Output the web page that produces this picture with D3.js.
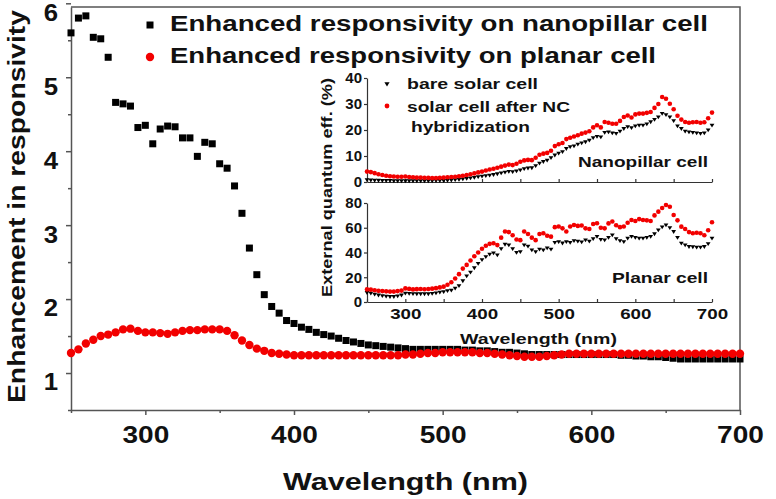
<!DOCTYPE html>
<html>
<head>
<meta charset="utf-8">
<script src="https://cdn.jsdelivr.net/npm/d3@7/dist/d3.min.js"></script>
<style>
  body { margin: 0; background: #fff; }
  text { font-family: "Liberation Sans", Arial, sans-serif; font-weight: bold; fill: #111; }
</style>
</head>
<body>
<div id="chart"></div>
<script>
/* DATA */
const wavelengths = d3.range(250, 701, 5);

// main plot: enhancement in responsivity
const nanopillarEnh = [
  5.60, 5.80, 5.83, 5.54, 5.52, 5.27, 4.66, 4.64, 4.61, 4.32,
  4.35, 4.10, 4.30, 4.34, 4.33, 4.18, 4.18, 3.93, 4.12, 4.10,
  3.83, 3.77, 3.53, 3.16, 2.69, 2.33, 2.06, 1.90, 1.81, 1.71,
  1.67, 1.62, 1.59, 1.55, 1.52, 1.50, 1.47, 1.44, 1.42, 1.40,
  1.38, 1.37, 1.36, 1.35, 1.34, 1.33, 1.32, 1.32, 1.32, 1.32,
  1.32, 1.32, 1.32, 1.31, 1.31, 1.30, 1.30, 1.29, 1.28, 1.28,
  1.27, 1.26, 1.25, 1.25, 1.25, 1.25, 1.25, 1.25, 1.25, 1.25,
  1.25, 1.25, 1.25, 1.25, 1.24, 1.24, 1.23, 1.23, 1.22, 1.22,
  1.21, 1.20, 1.19, 1.19, 1.19, 1.19, 1.19, 1.19, 1.19, 1.19,
  1.19
];
const planarEnh = [
  1.27, 1.32, 1.40, 1.45, 1.50, 1.52, 1.55, 1.59, 1.60, 1.57,
  1.55, 1.55, 1.54, 1.53, 1.55, 1.57, 1.58, 1.58, 1.59, 1.59,
  1.59, 1.57, 1.51, 1.44, 1.38, 1.33, 1.30, 1.27, 1.26, 1.25,
  1.24, 1.24, 1.24, 1.24, 1.24, 1.24, 1.24, 1.24, 1.24, 1.24,
  1.24, 1.24, 1.24, 1.24, 1.24, 1.25, 1.25, 1.26, 1.27, 1.27,
  1.28, 1.28, 1.28, 1.28, 1.28, 1.27, 1.27, 1.26, 1.25, 1.24,
  1.23, 1.22, 1.22, 1.22, 1.23, 1.24, 1.25, 1.26, 1.26, 1.26,
  1.26, 1.26, 1.26, 1.26, 1.26, 1.26, 1.26, 1.26, 1.26, 1.26,
  1.26, 1.26, 1.26, 1.26, 1.26, 1.26, 1.26, 1.26, 1.26, 1.26,
  1.26
];

// inset: external quantum efficiency (%)
const npBare = [
  0.8, 0.7, 0.6, 0.6, 0.5, 0.5, 0.5, 0.4, 0.4, 0.4,
  0.4, 0.4, 0.4, 0.4, 0.4, 0.4, 0.4, 0.4, 0.5, 0.5,
  0.5, 0.6, 0.7, 0.8, 0.9, 1.1, 1.3, 1.5, 1.7, 2.0,
  2.2, 2.4, 2.6, 2.8, 3.1, 3.4, 3.7, 4.0, 3.9, 4.2,
  4.6, 5.1, 5.3, 5.4, 6.2, 7.2, 7.8, 8.3, 9.3, 10.3,
  11.0, 11.6, 12.8, 13.5, 13.8, 14.5, 15.0, 15.4, 16.0, 17.0,
  17.5, 17.3, 19.0, 19.2, 18.8, 18.6, 19.5, 20.5, 21.2, 20.8,
  21.5, 21.8, 21.8, 22.3, 23.1, 24.0, 25.0, 26.3, 25.8, 25.0,
  23.5, 21.5, 20.5, 19.5, 19.2, 19.0, 18.8, 18.6, 18.8, 20.0,
  21.8
];
const npNC = [
  4.0, 3.8, 3.4, 3.0, 2.7, 2.4, 2.2, 2.1, 2.0, 2.0,
  2.1, 1.9, 1.8, 1.7, 1.7, 1.6, 1.6, 1.5, 1.5, 1.6,
  1.7, 1.8, 1.9, 2.0, 2.2, 2.4, 2.7, 3.0, 3.3, 3.7,
  4.0, 4.4, 4.8, 5.1, 5.5, 5.9, 6.3, 6.7, 6.5, 7.0,
  7.8, 8.3, 8.5, 8.4, 9.3, 10.5, 10.9, 11.2, 12.0, 13.8,
  14.5, 15.0, 16.5, 17.0, 17.5, 18.0, 18.6, 19.0, 19.5, 21.0,
  21.8, 21.0, 23.1, 22.8, 22.4, 22.4, 23.5, 25.0, 25.6, 24.8,
  26.0, 26.3, 26.3, 26.6, 26.9, 28.5, 30.0, 32.7, 32.0, 30.1,
  28.0, 25.5, 24.0, 23.1, 22.8, 23.0, 23.1, 22.8, 23.0, 24.5,
  26.7
];
const plBare = [
  7.5, 7.0, 6.2, 5.5, 5.0, 4.6, 4.3, 4.3, 4.8, 5.5,
  7.0, 6.8, 6.6, 6.5, 6.5, 6.5, 6.5, 6.8, 7.2, 7.8,
  8.3, 9.0, 9.5, 11.0, 13.0, 17.0, 21.0, 24.0, 27.5, 31.0,
  34.0, 36.5, 38.5, 39.5, 38.0, 43.0, 46.5, 46.0, 43.0, 40.0,
  40.5, 46.0, 45.0, 42.0, 40.6, 42.5, 42.0, 43.5, 42.6, 48.0,
  48.7, 47.5, 48.7, 48.0, 49.5, 49.0, 48.5, 50.1, 49.0, 51.0,
  52.8, 50.5, 50.1, 52.0, 54.1, 51.0, 49.5, 48.7, 51.5, 52.8,
  52.0, 51.5, 51.5, 52.0, 52.8, 55.0, 58.2, 60.5, 62.2, 60.0,
  56.8, 52.0, 47.4, 46.0, 44.7, 44.5, 44.2, 44.2, 44.7, 47.0,
  51.5
];
const plNC = [
  10.2, 10.0, 9.5, 9.0, 8.8, 8.6, 8.4, 8.4, 8.8, 9.2,
  11.0, 10.6, 10.2, 10.4, 10.5, 10.3, 10.5, 10.8, 11.2, 11.8,
  12.4, 14.0, 16.0, 19.0, 22.5, 27.0, 30.0, 33.5, 37.0, 40.0,
  43.0, 45.5, 47.0, 47.5, 46.0, 52.0, 57.0, 56.5, 54.0, 50.5,
  50.0, 57.0, 55.0, 52.0, 50.0, 55.0, 55.5, 53.5, 52.8, 60.5,
  61.0, 59.5, 57.0, 61.0, 62.2, 61.5, 61.8, 59.5, 59.0, 63.0,
  63.6, 60.0, 59.5, 63.5, 65.0, 62.0, 60.5, 61.0, 64.0, 66.3,
  65.5, 67.0, 66.3, 66.0, 65.5, 70.0, 73.0, 76.0, 78.4, 77.0,
  70.3, 66.0, 60.9, 59.0, 56.5, 55.5, 56.0, 55.5, 54.0, 58.0,
  64.4
];

const xMajor = [300, 400, 500, 600, 700];
const xMinor = [250, 350, 450, 550, 650];
const yMajor = [1, 2, 3, 4, 5, 6];
const yMinor = [0.5, 1.5, 2.5, 3.5, 4.5, 5.5];
const insetXTicks = [250, 300, 350, 400, 450, 500, 550, 600, 650, 700];
const insetTopTicks = [0, 10, 20, 30, 40];
const insetBotTicks = [0, 20, 40, 60, 80];

/* SVG */
const width = 776, height = 499;
const axisColor = "#555";
const red = "#f20000";

const svg = d3.select("#chart").append("svg")
  .attr("width", width).attr("height", height);

// stretch text horizontally like the reference figure
function stretch(sel, k) {
  sel.each(function() {
    const len = this.getComputedTextLength();
    d3.select(this).attr("textLength", len * k).attr("lengthAdjust", "spacingAndGlyphs");
  });
}

/* MAIN SCALES */
const x = d3.scaleLinear().domain([250, 700]).range([71, 740]);
const y = d3.scaleLinear().domain([0.5, 5.95]).range([410, 7]);

// frame (top + right)
svg.append("path")
  .attr("d", `M${x.range()[0]},${y.range()[1]}H${x.range()[1]}V${y.range()[0]}`)
  .attr("fill", "none").attr("stroke", axisColor).attr("stroke-width", 1.5);

// x axis
const gx = svg.append("g").attr("transform", `translate(0,${y.range()[0]})`)
  .call(d3.axisBottom(x).tickValues(xMajor).tickSize(5).tickSizeOuter(0));
svg.append("g").attr("transform", `translate(0,${y.range()[0]})`)
  .call(d3.axisBottom(x).tickValues(xMinor).tickSize(3).tickFormat("").tickSizeOuter(0))
  .select(".domain").remove();

// y axis
const gy = svg.append("g").attr("transform", `translate(${x.range()[0]},0)`)
  .call(d3.axisLeft(y).tickValues(yMajor).tickSize(5).tickSizeOuter(0).tickFormat(d3.format("d")));
svg.append("g").attr("transform", `translate(${x.range()[0]},0)`)
  .call(d3.axisLeft(y).tickValues(yMinor).tickSize(3).tickFormat("").tickSizeOuter(0))
  .select(".domain").remove();

svg.selectAll(".domain, .tick line").attr("stroke", axisColor).attr("stroke-width", 1.5);

gx.selectAll("text").attr("y", 33).attr("dy", null)
  .style("font-size", "23px").attr("fill", "#111");
stretch(gx.selectAll("text"), 1.22);
gy.selectAll("text").attr("x", -13).attr("y", 9.5)
  .style("font-size", "23px").attr("fill", "#111");
stretch(gy.selectAll("text"), 1.12);

// axis titles
svg.append("text")
  .attr("x", 283).attr("y", 490)
  .style("font-size", "23px")
  .attr("textLength", 245).attr("lengthAdjust", "spacingAndGlyphs")
  .text("Wavelength (nm)");

svg.append("text")
  .attr("transform", "translate(25,403) rotate(-90)")
  .style("font-size", "23px")
  .attr("textLength", 393).attr("lengthAdjust", "spacingAndGlyphs")
  .text("Enhancement in responsivity");

/* MAIN MARKS */
const sq = 7;
svg.append("g").selectAll("rect")
  .data(wavelengths)
  .join("rect")
  .attr("x", (d, i) => x(d) - sq / 2)
  .attr("y", (d, i) => y(nanopillarEnh[i]) - sq / 2)
  .attr("width", sq).attr("height", sq)
  .attr("fill", "#000");

svg.append("g").selectAll("circle")
  .data(wavelengths)
  .join("circle")
  .attr("cx", d => x(d))
  .attr("cy", (d, i) => y(planarEnh[i]))
  .attr("r", 4.2)
  .attr("fill", red);

// main legend
svg.append("rect").attr("x", 150 - sq / 2).attr("y", 25 - sq / 2)
  .attr("width", sq).attr("height", sq).attr("fill", "#000");
svg.append("circle").attr("cx", 150).attr("cy", 57).attr("r", 4.2).attr("fill", red);
svg.append("text").attr("x", 170).attr("y", 31).style("font-size", "22px")
  .attr("textLength", 538).attr("lengthAdjust", "spacingAndGlyphs")
  .text("Enhanced responsivity on nanopillar cell");
svg.append("text").attr("x", 170).attr("y", 63).style("font-size", "22px")
  .attr("textLength", 486).attr("lengthAdjust", "spacingAndGlyphs")
  .text("Enhanced responsivity on planar cell");

/* INSET */
const ix = d3.scaleLinear().domain([250, 700]).range([367, 712]);
const iyTop = d3.scaleLinear().domain([0, 40]).range([182, 78]);
const iyBot = d3.scaleLinear().domain([0, 80]).range([302, 203]);
const inset = svg.append("g").attr("class", "inset");

function insetPanel(yScale, yTicks, bare, nc, showLabels) {
  const g = inset.append("g");
  const gxI = g.append("g").attr("transform", `translate(0,${yScale.range()[0]})`)
    .call(d3.axisBottom(ix).tickValues(insetXTicks).tickSize(-3).tickSizeOuter(0)
      .tickFormat(d => (showLabels && d % 100 === 0) ? d : ""));
  const gyI = g.append("g").attr("transform", `translate(${ix.range()[0]},0)`)
    .call(d3.axisLeft(yScale).tickValues(yTicks).tickSize(3).tickSizeOuter(0));
  g.selectAll(".domain, .tick line").attr("stroke", "#333").attr("stroke-width", 1.2);
  gxI.selectAll("text").attr("y", 17).attr("dy", null)
    .style("font-size", "15px").attr("fill", "#111");
  stretch(gxI.selectAll("text"), 1.25);
  gyI.selectAll("text").attr("x", -5).style("font-size", "15px").attr("fill", "#111");

  g.append("g").selectAll("path")
    .data(wavelengths)
    .join("path")
    .attr("transform", (d, i) => `translate(${ix(d)},${yScale(bare[i])})`)
    .attr("d", "M-2.4,-1.6L2.4,-1.6L0,2.2Z")
    .attr("fill", "#000");
  g.append("g").selectAll("circle")
    .data(wavelengths)
    .join("circle")
    .attr("cx", d => ix(d))
    .attr("cy", (d, i) => yScale(nc[i]))
    .attr("r", 2.3)
    .attr("fill", red);
}
insetPanel(iyTop, insetTopTicks, npBare, npNC, false);
insetPanel(iyBot, insetBotTicks, plBare, plNC, true);

// inset legend
inset.append("path").attr("transform", "translate(387,84)")
  .attr("d", "M-2.6,-1.7L2.6,-1.7L0,2.4Z").attr("fill", "#000");
inset.append("circle").attr("cx", 387).attr("cy", 106).attr("r", 2.4).attr("fill", red);
const insetText = [
  { t: "bare solar cell", x: 407, y: 89, w: 131 },
  { t: "solar cell after NC", x: 407, y: 112, w: 163 },
  { t: "hybridization", x: 411, y: 132, w: 119 },
  { t: "Nanopillar cell", x: 578, y: 167, w: 130 },
  { t: "Planar cell", x: 612, y: 283, w: 96 },
  { t: "Wavelength (nm)", x: 460, y: 344, w: 157 }
];
inset.selectAll("text.lbl")
  .data(insetText)
  .join("text")
  .attr("class", "lbl")
  .attr("x", d => d.x).attr("y", d => d.y)
  .style("font-size", "15px")
  .attr("textLength", d => d.w).attr("lengthAdjust", "spacingAndGlyphs")
  .text(d => d.t);

inset.append("text")
  .attr("transform", "translate(332,297) rotate(-90)")
  .style("font-size", "15px")
  .attr("textLength", 219).attr("lengthAdjust", "spacingAndGlyphs")
  .text("External quantum eff. (%)");
</script>
</body>
</html>
